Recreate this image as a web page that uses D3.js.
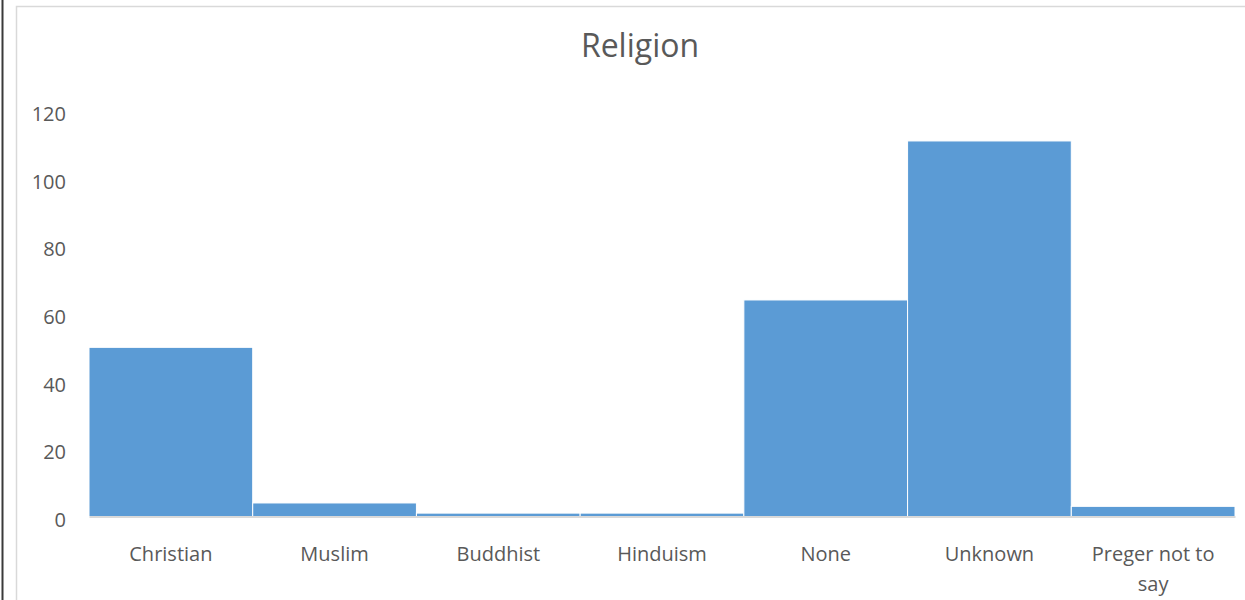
<!DOCTYPE html>
<html>
<head>
<meta charset="utf-8">
<script src="https://cdn.jsdelivr.net/npm/d3@7"></script>
<style>
  body { margin: 0; background: #fff; }
  text { font-family: "Open Sans", "Lato", sans-serif; fill: #595959; }
</style>
</head>
<body>
<div id="content"></div>
<script>
var width = 1245;
var height = 600;

var categories = ['Christian', 'Muslim', 'Buddhist', 'Hinduism', 'None', 'Unknown', 'Preger not to say'];
var counts = [50, 4, 1, 1, 64, 111, 3];
var yTicks = [0, 20, 40, 60, 80, 100, 120];

var svg = d3.select('div#content').append('svg')
    .attr('width', width)
    .attr('height', height);

// outer frame bits
svg.append('line')
    .attr('x1', 2.5).attr('x2', 2.5)
    .attr('y1', 0).attr('y2', height)
    .attr('stroke', '#3a3a3a')
    .attr('stroke-width', 2);
svg.append('path')
    .attr('d', 'M16.5,' + height + 'V6.5H' + width)
    .attr('fill', 'none')
    .attr('stroke', '#d9d9d9')
    .attr('stroke-width', 1.5);

var x = d3.scaleBand()
    .domain(categories)
    .range([89, 1235])
    .padding(0);

var y = d3.scaleLinear()
    .domain([0, 120])
    .range([516.5, 110.5]);

svg.append('text')
    .attr('x', 640)
    .attr('y', 57)
    .attr('text-anchor', 'middle')
    .style('font-size', '32px')
    .text('Religion');

svg.selectAll('rect.bar')
    .data(categories).enter()
        .append('rect')
            .attr('class', 'bar')
            .attr('x', function(d){ return x(d); })
            .attr('width', x.bandwidth())
            .attr('y', function(d, i){ return y(counts[i]); })
            .attr('height', function(d, i){ return y(0) - y(counts[i]); })
            .attr('fill', '#5b9bd5')
            .attr('stroke', '#fff')
            .attr('stroke-width', 1);

// y axis labels (no line, no ticks)
var yAxis = svg.append('g')
    .attr('transform', 'translate(66,3)')
    .call(d3.axisLeft(y).tickValues(yTicks).tickSize(0).tickPadding(0));
yAxis.select('.domain').remove();
yAxis.selectAll('text')
    .attr('dy', '0.35em')
    .style('font-size', '20px')
    .style('font-family', '"Open Sans", "Lato", sans-serif')
    .attr('fill', '#595959');

// category axis
var xAxis = svg.append('g')
    .attr('transform', 'translate(0,' + y(0) + ')')
    .call(d3.axisBottom(x).tickSize(0).tickPadding(0));
xAxis.select('.domain')
    .attr('stroke', '#d9d9d9')
    .attr('stroke-width', 2);
xAxis.selectAll('text').remove();

xAxis.selectAll('.tick').each(function(d){
    var g = d3.select(this);
    var lines = d === 'Preger not to say' ? ['Preger not to', 'say'] : [d];
    lines.forEach(function(l, i){
        g.append('text')
            .attr('y', 44 + i * 30)
            .attr('text-anchor', 'middle')
            .style('font-size', '20px')
            .text(l);
    });
});
</script>
</body>
</html>
